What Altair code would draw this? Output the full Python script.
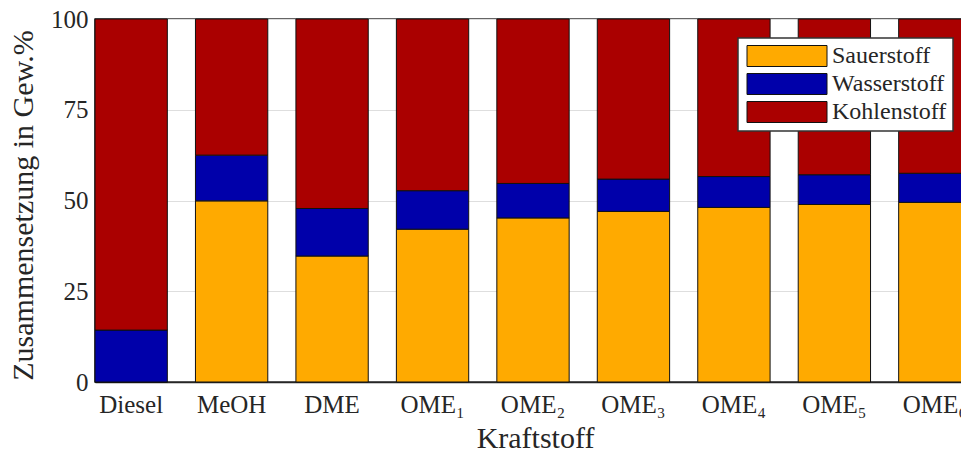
import altair as alt
import pandas as pd

categories = ["Diesel", "MeOH", "DME", "OME₁", "OME₂", "OME₃", "OME₄", "OME₅", "OME₆"]
elements = ["Sauerstoff", "Wasserstoff", "Kohlenstoff"]
sauerstoff = [0.0, 49.9, 34.7, 42.1, 45.2, 47.0, 48.1, 48.9, 49.5]
wasserstoff = [14.3, 12.6, 13.1, 10.6, 9.5, 8.9, 8.5, 8.2, 8.0]
kohlenstoff = [85.7, 37.5, 52.2, 47.3, 45.3, 44.1, 43.4, 42.9, 42.5]
colors = ["#FFAA00", "#0000AA", "#AA0000"]
y_ticks = [0, 25, 50, 75, 100]

rows = []
for series_idx, (name, vals) in enumerate(zip(elements, [sauerstoff, wasserstoff, kohlenstoff])):
    for cat, v in zip(categories, vals):
        rows.append({"Kraftstoff": cat, "Element": name, "Anteil": v, "idx": series_idx})
df = pd.DataFrame(rows)

FONT = "Liberation Serif"
TXT = "#262626"

chart = alt.Chart(df).mark_bar(stroke="#111111", strokeWidth=1).encode(
    x=alt.X("Kraftstoff:N", sort=categories,
            scale=alt.Scale(paddingInner=0.28, paddingOuter=0, range=[0, 876]),
            axis=alt.Axis(title="Kraftstoff", labelAngle=0, ticks=False, labelPadding=10,
                          titleX=440, titleY=65, titleBaseline="alphabetic", titleAlign="center",
                          grid=False)),
    y=alt.Y("Anteil:Q", stack="zero",
            scale=alt.Scale(domain=[0, 100], nice=False),
            axis=alt.Axis(title="Zusammensetzung in Gew.%", values=y_ticks, ticks=False,
                          labelPadding=7, titleX=-63, titleY=186,
                          titleBaseline="alphabetic", titleAlign="center", grid=True)),
    color=alt.Color("Element:N", scale=alt.Scale(domain=elements, range=colors), title=None,
                    legend=alt.Legend(orient="none", legendX=643, legendY=19)),
    order=alt.Order("idx:Q", sort="ascending"),
).properties(
    width=866, height=363,
    autosize=alt.AutoSizeParams(type="none"),
    padding={"left": 87, "top": 11, "right": 0, "bottom": 70},
).configure_view(
    stroke="#333333", strokeWidth=1.5
).configure_axis(
    labelFont=FONT, titleFont=FONT, labelFontSize=25, titleFontSize=30,
    labelColor=TXT, titleColor=TXT, titleFontWeight="normal",
    domainColor="#262626", domainWidth=1.5, gridColor="#dedede", gridWidth=1,
).configure_legend(
    labelFont=FONT, labelFontSize=24, labelColor=TXT, padding=6,
    fillColor="white", strokeColor="#333333", strokeWidth=1.5, cornerRadius=0,
    labelOffset=64, rowPadding=2,
    symbolType="M-0.857,-1L6.762,-1L6.762,1L-0.857,1Z", symbolSize=441,
    symbolStrokeColor="#111111", symbolStrokeWidth=1, symbolOpacity=1,
)

chart.save("out.html", embed_options={"renderer": "svg", "actions": False})
